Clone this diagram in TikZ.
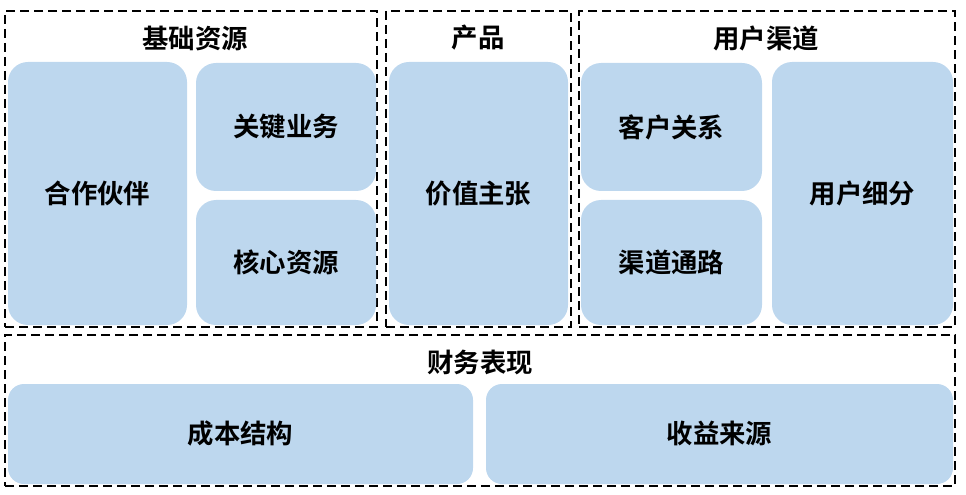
\documentclass[tikz,border=0pt]{standalone}
\usepackage{fontspec}
\newfontfamily\cjk{Noto Sans CJK SC}[BoldFont={Noto Sans CJK SC Bold}]
\usetikzlibrary{fit}
\definecolor{boxblue}{HTML}{BDD7EE}
\tikzset{
  cell/.style={fill=boxblue, draw=none, rounded corners=15pt, inner sep=0pt},
  lbl/.style={font=\cjk\bfseries\fontsize{19.8}{22}\selectfont, inner sep=0pt},
  group/.style={draw=black, dash pattern=on 7pt off 3.5pt, line width=2.2pt, inner sep=0pt},
  title/.style={font=\cjk\bfseries\fontsize{19.8}{22}\selectfont, inner sep=0pt}
}
\begin{document}
\begin{tikzpicture}[x=0.75pt, y=-0.75pt]
\useasboundingbox (0,0) rectangle (966,495);
% groups
\node[group, fit={(5,11) (377,327)}] (g1) {};
\node[group, fit={(386,11) (571,327)}] (g2) {};
\node[group, fit={(579,11) (955,327)}] (g3) {};
\node[group, fit={(5,335) (955,486)}] (g4) {};
% titles
\node[title] (t1) at (195,38) {基础资源};
\node[title] (t2) at (478,38) {产品};
\node[title] (t3) at (766,38) {用户渠道};
\node[title] (t4) at (480,362) {财务表现};
% cells
\node[cell, fit={(8,62) (187,325)}] (partners) {};
\node[lbl] (partnersT) at (partners.center) {合作伙伴};
\node[cell, fit={(196,63) (376,191)}] (activities) {};
\node[lbl] (activitiesT) at (activities.center) {关键业务};
\node[cell, fit={(196,200) (376,325)}] (resources) {};
\node[lbl] (resourcesT) at (resources.center) {核心资源};
\node[cell, fit={(389,62) (568,325)}] (value) {};
\node[lbl] (valueT) at (value.center) {价值主张};
\node[cell, fit={(581,63) (762,191)}] (relations) {};
\node[lbl] (relationsT) at (relations.center) {客户关系};
\node[cell, fit={(581,200) (762,325)}] (channels) {};
\node[lbl] (channelsT) at (channels.center) {渠道通路};
\node[cell, fit={(772,62) (953,325)}] (segments) {};
\node[lbl] (segmentsT) at (segments.center) {用户细分};
\node[cell, rounded corners=12pt, fit={(8,384) (473,484)}] (cost) {};
\node[lbl] (costT) at (cost.center) {成本结构};
\node[cell, rounded corners=12pt, fit={(486,384) (953,484)}] (revenue) {};
\node[lbl] (revenueT) at (revenue.center) {收益来源};
\end{tikzpicture}
\end{document}
